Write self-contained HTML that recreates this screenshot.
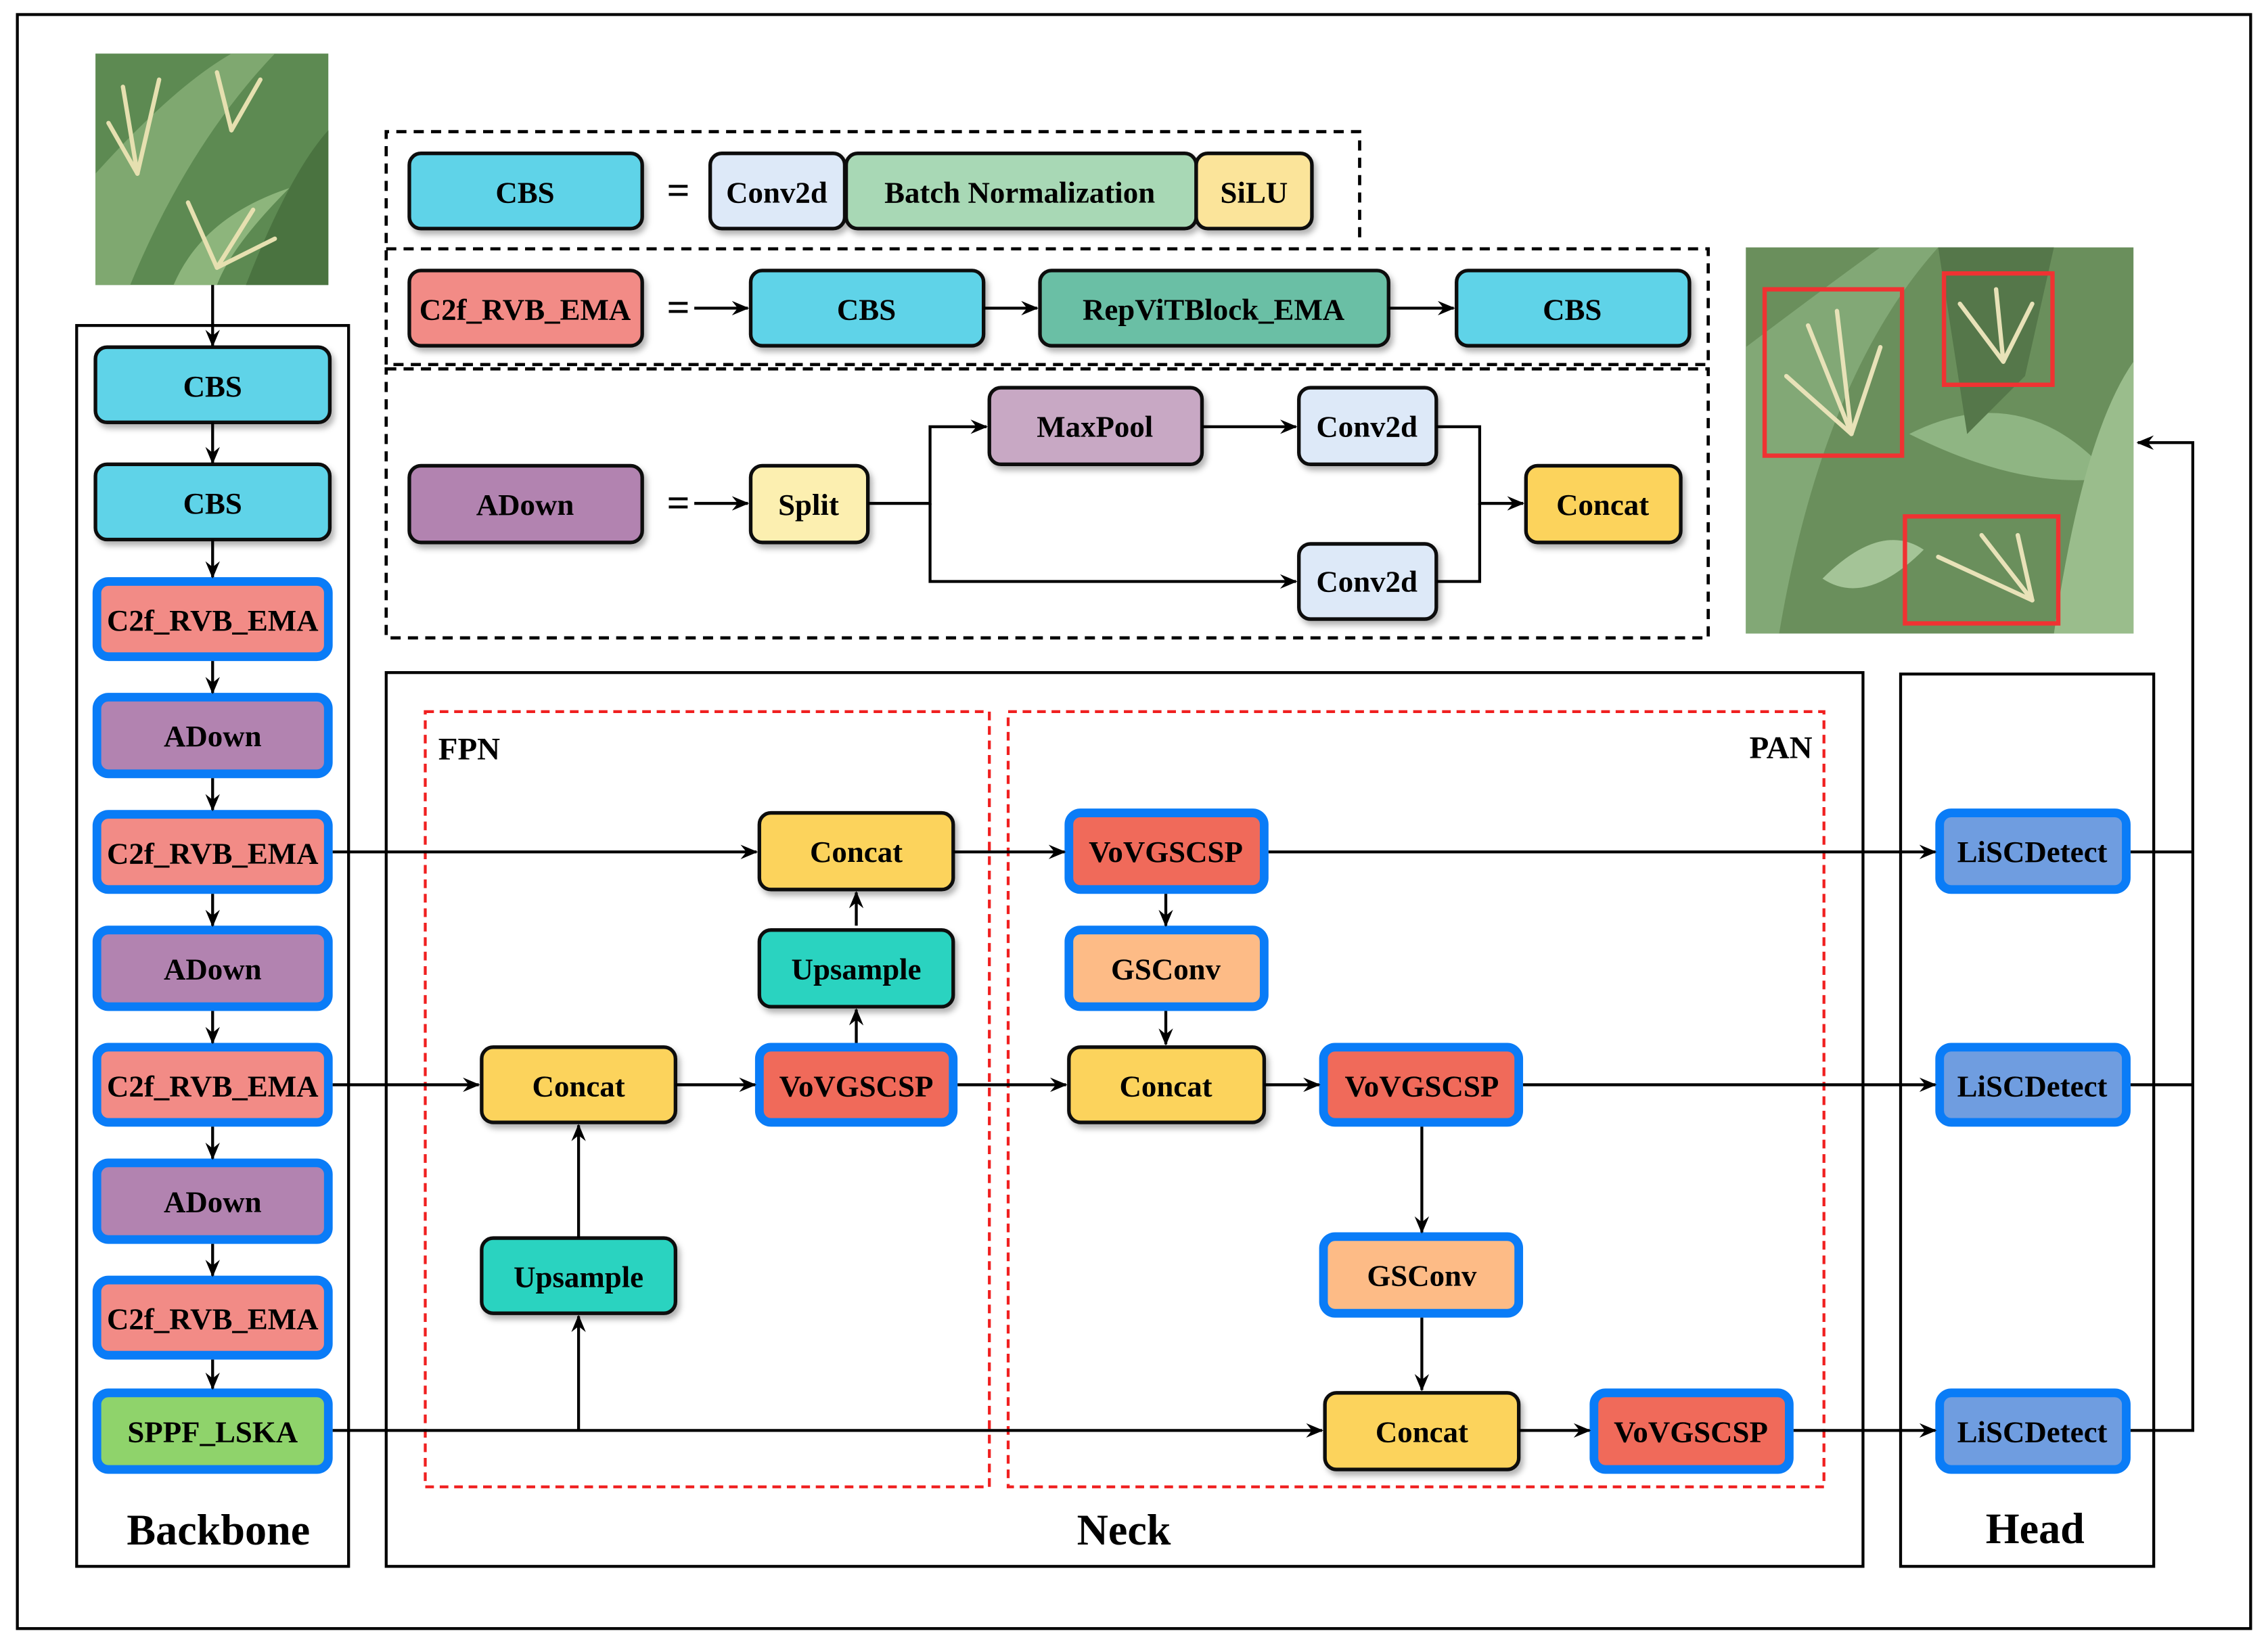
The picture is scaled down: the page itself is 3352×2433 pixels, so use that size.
<!DOCTYPE html>
<html><head><meta charset="utf-8"><style>
html,body{margin:0;padding:0;background:#fff;}
svg{display:block;}
svg text{font-family:"Liberation Serif","Times New Roman",Times,serif !important;font-weight:bold;}
</style></head><body>
<svg width="3352" height="2433" viewBox="0 0 1568 1138" xmlns="http://www.w3.org/2000/svg" font-family="Liberation Serif, Times New Roman, serif">
<defs>
<marker id="a" viewBox="0 0 12 10" refX="11" refY="5" markerWidth="12" markerHeight="10" markerUnits="userSpaceOnUse" orient="auto">
<path d="M0,0 L12,5 L0,10 L4,5 z" fill="#000"/></marker>
<filter id="sh" x="-10%" y="-10%" width="130%" height="140%"><feDropShadow dx="2" dy="3" stdDeviation="2" flood-color="#000" flood-opacity="0.3"/></filter>
</defs>
<rect x="0" y="0" width="1568" height="1138" fill="#fff"/>
<rect x="12" y="10" width="1544" height="1116" fill="none" stroke="#000" stroke-width="2"/>

<g>
<rect x="66" y="37" width="161" height="160" fill="#5d8a52"/>
<path d="M66,120 Q120,60 160,37 L190,37 Q130,100 90,197 L66,197z" fill="#7fa870"/>
<path d="M170,197 Q200,120 227,90 L227,197z" fill="#4a7340"/>
<path d="M120,197 Q140,150 200,130 Q160,170 150,197z" fill="#8db57c"/>
<g stroke="#e6e0b0" stroke-width="3" stroke-linecap="round">
<line x1="95" y1="120" x2="85" y2="60"/><line x1="95" y1="120" x2="110" y2="55"/><line x1="95" y1="120" x2="75" y2="85"/>
<line x1="160" y1="90" x2="150" y2="50"/><line x1="160" y1="90" x2="180" y2="55"/>
<line x1="150" y1="185" x2="130" y2="140"/><line x1="150" y1="185" x2="175" y2="145"/><line x1="150" y1="185" x2="190" y2="165"/>
</g>
</g>
<g>
<rect x="1207" y="171" width="268" height="267" fill="#6a8f5c"/>
<path d="M1207,240 Q1260,200 1300,171 L1340,171 Q1260,260 1230,438 L1207,438z" fill="#82a876"/>
<path d="M1320,300 Q1400,260 1460,330 Q1400,340 1320,300z" fill="#8fb583"/>
<path d="M1420,438 Q1440,300 1475,250 L1475,438z" fill="#9abd8c"/>
<path d="M1260,400 Q1300,360 1330,380 Q1290,420 1260,400z" fill="#a4c497"/>
<path d="M1340,171 L1420,171 L1400,260 L1360,300z" fill="#55774a"/>
<g stroke="#e8e2b8" stroke-width="3" stroke-linecap="round">
<line x1="1280" y1="300" x2="1250" y2="225"/><line x1="1280" y1="300" x2="1270" y2="215"/><line x1="1280" y1="300" x2="1235" y2="260"/><line x1="1280" y1="300" x2="1300" y2="240"/>
<line x1="1385" y1="250" x2="1355" y2="210"/><line x1="1385" y1="250" x2="1380" y2="200"/><line x1="1385" y1="250" x2="1405" y2="210"/>
<line x1="1405" y1="415" x2="1340" y2="385"/><line x1="1405" y1="415" x2="1370" y2="370"/><line x1="1405" y1="415" x2="1395" y2="370"/>
</g>
<g fill="none" stroke="#f03232" stroke-width="3">
<rect x="1220" y="200" width="95" height="115"/><rect x="1344" y="189" width="75" height="77"/><rect x="1317" y="357" width="106" height="74"/>
</g>
</g>

<g fill="none" stroke="#000" stroke-width="2.2" stroke-dasharray="7,5">
<path d="M267,168 L267,91 L940,91 L940,168"/>
<rect x="267" y="172" width="914" height="80"/>
<rect x="267" y="255" width="914" height="186"/>
</g>

<g fill="none" stroke="#000" stroke-width="2">
<rect x="53" y="225" width="188" height="858"/>
<rect x="267" y="465" width="1021" height="618"/>
<rect x="1314" y="466" width="175" height="617"/>
</g>
<g fill="none" stroke="#f02020" stroke-width="2" stroke-dasharray="6,4">
<rect x="294" y="492" width="390" height="536"/>
<rect x="697" y="492" width="564" height="536"/>
</g>

<g font-size="21" text-anchor="middle" fill="#000">
<g stroke="#111" stroke-width="2.5" filter="url(#sh)">
<rect x="283" y="106" width="161" height="52" rx="8" fill="#5fd3e8"/>
<rect x="491" y="106" width="93" height="52" rx="8" fill="#dde9f8"/>
<rect x="585" y="106" width="242" height="52" rx="8" fill="#a8d8b5"/>
<rect x="827" y="106" width="80" height="52" rx="8" fill="#fbe49a"/>
<rect x="283" y="187" width="161" height="52" rx="8" fill="#f28b86"/>
<rect x="519" y="187" width="161" height="52" rx="8" fill="#5fd3e8"/>
<rect x="719" y="187" width="241" height="52" rx="8" fill="#6abfa5"/>
<rect x="1007" y="187" width="161" height="52" rx="8" fill="#5fd3e8"/>
<rect x="283" y="322" width="161" height="53" rx="8" fill="#b283b0"/>
<rect x="519" y="322" width="81" height="53" rx="8" fill="#fcefb0"/>
<rect x="684" y="268" width="147" height="53" rx="8" fill="#c8a8c4"/>
<rect x="898" y="268" width="95" height="53" rx="8" fill="#dde9f8"/>
<rect x="898" y="376" width="95" height="52" rx="8" fill="#dde9f8"/>
<rect x="1055" y="322" width="107" height="53" rx="8" fill="#fcd35c"/>
</g>
<text x="363" y="140">CBS</text><text x="537" y="140">Conv2d</text><text x="705" y="140">Batch  Normalization</text><text x="867" y="140">SiLU</text>
<text x="363" y="221">C2f_RVB_EMA</text><text x="599" y="221">CBS</text><text x="839" y="221">RepViTBlock_EMA</text><text x="1087" y="221">CBS</text>
<text x="363" y="356">ADown</text><text x="559" y="356">Split</text><text x="757" y="302">MaxPool</text><text x="945" y="302">Conv2d</text><text x="945" y="409">Conv2d</text><text x="1108" y="356">Concat</text>
<text x="469" y="141" font-size="28">=</text><text x="469" y="222" font-size="28">=</text><text x="469" y="357" font-size="28">=</text>

<g stroke="#111" stroke-width="2.5" filter="url(#sh)">
<rect x="66" y="240" width="162" height="52" rx="8" fill="#5fd3e8"/>
<rect x="66" y="321" width="162" height="52" rx="8" fill="#5fd3e8"/>
</g>
<g stroke="#0a7cf7" stroke-width="6">
<rect x="67" y="402" width="160" height="52" rx="8" fill="#f28b86"/>
<rect x="67" y="482" width="160" height="53" rx="8" fill="#b283b0"/>
<rect x="67" y="563" width="160" height="52" rx="8" fill="#f28b86"/>
<rect x="67" y="643" width="160" height="53" rx="8" fill="#b283b0"/>
<rect x="67" y="724" width="160" height="52" rx="8" fill="#f28b86"/>
<rect x="67" y="804" width="160" height="53" rx="8" fill="#b283b0"/>
<rect x="67" y="885" width="160" height="52" rx="8" fill="#f28b86"/>
<rect x="67" y="963" width="160" height="53" rx="8" fill="#8fd36b"/>
</g>
<text x="147" y="274">CBS</text><text x="147" y="355">CBS</text>
<text x="147" y="436">C2f_RVB_EMA</text><text x="147" y="516">ADown</text><text x="147" y="597">C2f_RVB_EMA</text><text x="147" y="677">ADown</text>
<text x="147" y="758">C2f_RVB_EMA</text><text x="147" y="838">ADown</text><text x="147" y="919">C2f_RVB_EMA</text><text x="147" y="997">SPPF_LSKA</text>

<g stroke="#111" stroke-width="2.5" filter="url(#sh)">
<rect x="525" y="562" width="134" height="53" rx="8" fill="#fcd35c"/>
<rect x="525" y="643" width="134" height="53" rx="8" fill="#2ad3c0"/>
<rect x="333" y="724" width="134" height="52" rx="8" fill="#fcd35c"/>
<rect x="333" y="856" width="134" height="52" rx="8" fill="#2ad3c0"/>
<rect x="739" y="724" width="135" height="52" rx="8" fill="#fcd35c"/>
<rect x="916" y="963" width="134" height="53" rx="8" fill="#fcd35c"/>
</g>
<g stroke="#0a7cf7" stroke-width="6">
<rect x="525" y="724" width="134" height="52" rx="8" fill="#f06a5a"/>
<rect x="739" y="562" width="135" height="53" rx="8" fill="#f06a5a"/>
<rect x="739" y="643" width="135" height="53" rx="8" fill="#fdbb86"/>
<rect x="915" y="724" width="135" height="52" rx="8" fill="#f06a5a"/>
<rect x="915" y="855" width="135" height="53" rx="8" fill="#fdbb86"/>
<rect x="1102" y="963" width="135" height="53" rx="8" fill="#f06a5a"/>
<rect x="1341" y="562" width="129" height="53" rx="8" fill="#6f9de0"/>
<rect x="1341" y="724" width="129" height="52" rx="8" fill="#6f9de0"/>
<rect x="1341" y="963" width="129" height="53" rx="8" fill="#6f9de0"/>
</g>
<text x="592" y="596">Concat</text><text x="592" y="677">Upsample</text><text x="592" y="758">VoVGSCSP</text>
<text x="400" y="758">Concat</text><text x="400" y="890">Upsample</text>
<text x="806" y="596">VoVGSCSP</text><text x="806" y="677">GSConv</text><text x="806" y="758">Concat</text>
<text x="983" y="758">VoVGSCSP</text><text x="983" y="889">GSConv</text><text x="983" y="997">Concat</text><text x="1169" y="997">VoVGSCSP</text>
<text x="1405" y="596">LiSCDetect</text><text x="1405" y="758">LiSCDetect</text><text x="1405" y="997">LiSCDetect</text>

<text x="151" y="1068" font-size="30">Backbone</text>
<text x="777" y="1068" font-size="30">Neck</text>
<text x="1407" y="1067" font-size="30">Head</text>
<text x="303" y="525" font-size="22" text-anchor="start">FPN</text>
<text x="1253" y="524" font-size="22" text-anchor="end">PAN</text>
</g>

<g stroke="#000" stroke-width="2" fill="none" marker-end="url(#a)">
<line x1="147" y1="197" x2="147" y2="239"/>
<line x1="147" y1="292" x2="147" y2="320"/>
<line x1="147" y1="373" x2="147" y2="399"/>
<line x1="147" y1="457" x2="147" y2="479"/>
<line x1="147" y1="538" x2="147" y2="560"/>
<line x1="147" y1="618" x2="147" y2="640"/>
<line x1="147" y1="699" x2="147" y2="721"/>
<line x1="147" y1="779" x2="147" y2="801"/>
<line x1="147" y1="860" x2="147" y2="882"/>
<line x1="147" y1="940" x2="147" y2="960"/>
<line x1="480" y1="213" x2="517" y2="213"/>
<line x1="680" y1="213" x2="717" y2="213"/>
<line x1="960" y1="213" x2="1005" y2="213"/>
<line x1="480" y1="348" x2="517" y2="348"/>
<polyline points="600,348 643,348 643,295 682,295"/>
<polyline points="643,348 643,402 896,402"/>
<line x1="831" y1="295" x2="896" y2="295"/>
<polyline points="993,295 1023,295 1023,348 1053,348"/>
<line x1="230" y1="589" x2="523" y2="589"/>
<line x1="659" y1="589" x2="736" y2="589"/>
<line x1="877" y1="589" x2="1338" y2="589"/>
<line x1="806" y1="618" x2="806" y2="640"/>
<line x1="806" y1="699" x2="806" y2="722"/>
<line x1="230" y1="750" x2="331" y2="750"/>
<line x1="467" y1="750" x2="522" y2="750"/>
<line x1="592" y1="721" x2="592" y2="698"/>
<line x1="592" y1="640" x2="592" y2="617"/>
<line x1="662" y1="750" x2="737" y2="750"/>
<line x1="874" y1="750" x2="912" y2="750"/>
<line x1="1053" y1="750" x2="1338" y2="750"/>
<line x1="983" y1="779" x2="983" y2="852"/>
<line x1="983" y1="911" x2="983" y2="961"/>
<line x1="230" y1="989" x2="914" y2="989"/>
<line x1="400" y1="989" x2="400" y2="910"/>
<line x1="400" y1="856" x2="400" y2="778"/>
<line x1="1050" y1="989" x2="1099" y2="989"/>
<line x1="1240" y1="989" x2="1338" y2="989"/>
<polyline points="1473,989 1516,989 1516,306 1478,306"/>
</g>
<g stroke="#000" stroke-width="2" fill="none">
<polyline points="993,402 1023,402 1023,348"/>
<line x1="1473" y1="589" x2="1516" y2="589"/>
<line x1="1473" y1="750" x2="1516" y2="750"/>
</g>
</svg>
</body></html>
